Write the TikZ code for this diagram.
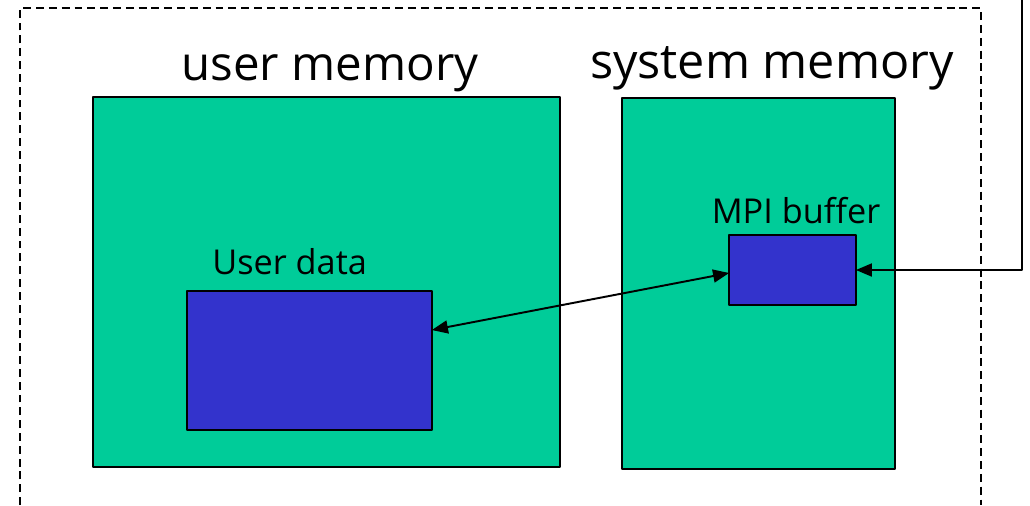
\documentclass[tikz,border=0pt]{standalone}
\usepackage{fontspec}
\setmainfont{Open Sans}
\usetikzlibrary{arrows}

\definecolor{memgreen}{RGB}{0,204,153}
\definecolor{datablue}{RGB}{51,51,204}

\begin{document}
\begin{tikzpicture}[x=0.02cm, y=-0.02cm, line cap = round, line join = round, >=triangle 45]
\tikzstyle{membox}=[fill=memgreen, draw=black, line width=1.1pt, rectangle, inner sep=0, outer sep=0]
\tikzstyle{databox}=[fill=datablue, draw=black, line width=1pt, rectangle, inner sep=0, outer sep=0]
\tikzstyle{biglabel}=[font=\fontsize{27}{30}\selectfont, anchor=base, inner sep=0]
\tikzstyle{smalllabel}=[font=\fontsize{19.5}{22}\selectfont, anchor=base, inner sep=0]
\useasboundingbox (0,0) rectangle (1030,505);

% outer dashed frame (cut off by the page)
\draw[line width=0.8pt, dash pattern=on 4.5pt off 2.8pt, line cap=butt] (20,505) -- (20,8) -- (981,8) -- (981,505);

\node[membox, minimum width=9.34cm, minimum height=7.4cm] (usermem) at (326.5,282) {};
\node[membox, minimum width=5.46cm, minimum height=7.42cm] (sysmem) at (758.5,283.5) {};
\node[databox, minimum width=4.9cm, minimum height=2.78cm] (userdata) at (309.5,360.5) {};
\node[databox, minimum width=2.54cm, minimum height=1.4cm] (mpibuf) at (792.5,270) {};

\node[biglabel] (usermemlabel) at (330,80) {user memory};
\node[biglabel, font=\fontsize{27.6}{30}\selectfont] (sysmemlabel) at (772,78) {system memory};
\node[smalllabel, anchor=base west] (userdatalabel) at (212,274) {User data};
\node[smalllabel] (mpibuflabel) at (796,223) {MPI buffer};

\coordinate (incoming) at (1022,0);

\draw[<->, line width=1.1pt] ([yshift=0.61cm]userdata.east) -- ([yshift=-0.06cm]mpibuf.west);
\draw[->, line width=1.1pt] (incoming) |- (mpibuf.east);
\end{tikzpicture}
\end{document}
